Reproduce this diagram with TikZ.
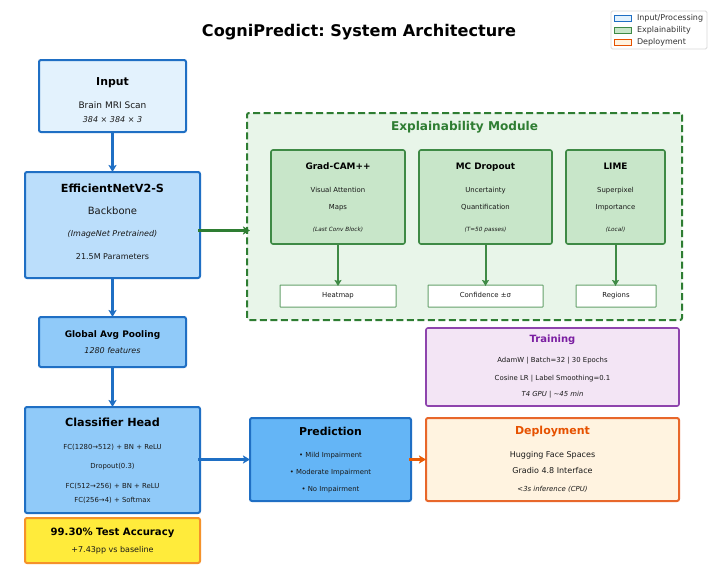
\documentclass[tikz,border=0pt]{standalone}
\usepackage{fontspec}
\setmainfont{DejaVu Sans}
\usetikzlibrary{arrows.meta}
\definecolor{cblue}{HTML}{1F6FC4}
\definecolor{cgreen}{HTML}{3E8A45}
\definecolor{cdgreen}{HTML}{2E7D32}
\definecolor{cpurple}{HTML}{7B1FA2}
\definecolor{cborderp}{HTML}{8E44AD}
\definecolor{corange}{HTML}{E65100}
\definecolor{cborderd}{HTML}{E8672A}
\definecolor{cgold}{HTML}{F5922A}
\definecolor{finput}{HTML}{E3F2FD}
\definecolor{fback}{HTML}{BBDEFB}
\definecolor{fhead}{HTML}{90CAF9}
\definecolor{fpred}{HTML}{64B5F6}
\definecolor{fmod}{HTML}{E8F5E9}
\definecolor{fxai}{HTML}{C8E6C9}
\definecolor{ftrain}{HTML}{F3E5F5}
\definecolor{fdep}{HTML}{FFF3E0}
\definecolor{facc}{HTML}{FFEB3B}
\newcommand{\fs}[1]{\fontsize{#1pt}{#1pt}\selectfont\frenchspacing}
\tikzset{
  every node/.style={inner sep=0pt,outer sep=0pt},
  lbl/.style={anchor=center,align=center,yshift=-1.2pt,text=black!90,font=\fs{#1},text height=0.74*#1pt,text depth=0.2*#1pt},
  blbl/.style={anchor=center,align=center,yshift=-1.2pt,text=black,font=\fs{#1}\bfseries,text height=0.74*#1pt,text depth=0.2*#1pt},
  ilbl/.style={anchor=center,align=center,yshift=-1.2pt,text=black!90,font=\fs{#1}\itshape,text height=0.74*#1pt,text depth=0.2*#1pt},
  panel/.style={anchor=center,line width=2pt,rounded corners=2pt},
  xaibox/.style={panel,draw=cgreen,fill=fxai,line width=1.6pt,minimum height=94pt},
  outbox/.style={anchor=center,draw=cgreen!80,fill=white,line width=1pt,rounded corners=.5pt,minimum height=22pt},
  flow/.style={draw=#1,line width=2.2pt,-{Stealth[length=7pt,width=8pt,inset=1.5pt]}},
  sflow/.style={draw=#1,line width=2pt,-{Stealth[length=6pt,width=7pt,inset=1pt]}},
  swatch/.style={anchor=center,draw=#1,line width=1pt,minimum width=17pt,minimum height=6pt},
  legtxt/.style={anchor=west,text=black!80,font=\fs{8},text height=5.9pt,text depth=1.6pt},
}
\begin{document}
\begin{tikzpicture}[x=1pt,y=-1pt]
\useasboundingbox (0,0) rectangle (718,573);
\fill[white] (0,0) rectangle (718,573);
\node[blbl=16.1] (title) at (359,31) {CogniPredict: System Architecture};
% legend
\node[draw=black!15,fill=white,line width=.8pt,rounded corners=1.5pt,minimum width=96pt,minimum height=38pt] (legend) at (659,30) {};
\node[swatch=cblue,fill=finput] (sw1) at (622.5,18) {};
\node[swatch=cgreen,fill=fxai] (sw2) at (622.5,30) {};
\node[swatch=corange,fill=fdep] (sw3) at (622.5,42) {};
\node[legtxt] (lt1) at (637,18) {Input/Processing};
\node[legtxt] (lt2) at (637,30) {Explainability};
\node[legtxt] (lt3) at (637,42) {Deployment};
% main column
\node[panel,draw=cblue,fill=finput,minimum width=147pt,minimum height=72pt] (input) at (112.5,96) {};
\node[panel,draw=cblue,fill=fback,minimum width=175pt,minimum height=106pt] (eff) at (112.5,225) {};
\node[panel,draw=cblue,fill=fhead,minimum width=147pt,minimum height=50pt] (gap) at (112.5,342) {};
\node[panel,draw=cblue,fill=fhead,minimum width=175pt,minimum height=106pt] (head) at (112.5,460) {};
\node[panel,draw=cgold,fill=facc,minimum width=175pt,minimum height=45pt] (acc) at (112.5,540.5) {};
% explainability module
\node[panel,draw=cdgreen,fill=fmod,dash pattern=on 7pt off 3.5pt,minimum width=435pt,minimum height=207pt] (mod) at (464.5,216.5) {};
\node[xaibox,minimum width=134pt] (cam) at (338,197) {};
\node[xaibox,minimum width=133pt] (mc) at (485.5,197) {};
\node[xaibox,minimum width=99pt] (lime) at (615.5,197) {};
\node[outbox,minimum width=116pt] (hm) at (338,296) {};
\node[outbox,minimum width=115pt] (conf) at (485.5,296) {};
\node[outbox,minimum width=80pt] (reg) at (616,296) {};
% right column
\node[panel,draw=cblue,fill=fpred,minimum width=161pt,minimum height=83pt] (pred) at (330.5,459.5) {};
\node[panel,draw=cborderp,fill=ftrain,line width=1.6pt,minimum width=253pt,minimum height=78pt] (train) at (552.5,367) {};
\node[panel,draw=cborderd,fill=fdep,minimum width=253pt,minimum height=83pt] (dep) at (552.5,459.5) {};
% connectors
\draw[flow=cblue] (input.south) -- (eff.north);
\draw[flow=cblue] (eff.south) -- (gap.north);
\draw[flow=cblue] (gap.south) -- (head.north);
\draw[flow=cblue] ([xshift=-2pt]pred.west -| head.east) -- (pred.west);
\draw[flow=corange!85!cgold] ([xshift=-2pt]pred.east) -- (dep.west);
\draw[flow=cdgreen] ([shift={(-2pt,-5.5pt)}]eff.east) -- ([shift={(3pt,-14pt)}]mod.west);
\draw[sflow=cgreen] (cam.south) -- ([yshift=-1pt]cam.south |- hm.north);
\draw[sflow=cgreen] (mc.south) -- ([yshift=-1pt]mc.south |- conf.north);
\draw[sflow=cgreen] (lime.south) -- ([yshift=-1pt]lime.south |- reg.north);
% labels
\node[blbl=10.9] (t1) at (112.5,81.5) {Input};
\node[lbl=9] (t2) at (112.5,104.5) {Brain MRI Scan};
\node[ilbl=8] (t3) at (112.5,119) {384 × 384 × 3};
\node[blbl=11.2] (t4) at (112.5,188) {EfficientNetV2-S};
\node[lbl=10] (t5) at (112.5,210.5) {Backbone};
\node[ilbl=8] (t6) at (112.5,233) {(ImageNet Pretrained)};
\node[lbl=8] (t7) at (112.5,256) {21.5M Parameters};
\node[blbl=9] (t8) at (112.5,334) {Global Avg Pooling};
\node[ilbl=8] (t9) at (112.5,350.5) {1280 features};
\node[blbl=11.2] (t10) at (112.5,422) {Classifier Head};
\node[lbl=6.9] (t11) at (112.5,446) {FC(1280→512) + BN + ReLU};
\node[lbl=6.9] (t12) at (112.5,465.5) {Dropout(0.3)};
\node[lbl=6.9] (t13) at (112.5,485) {FC(512→256) + BN + ReLU};
\node[lbl=6.9] (t14) at (112.5,499) {FC(256→4) + Softmax};
\node[blbl=10.1] (t15) at (112.5,531.5) {99.30\% Test Accuracy};
\node[lbl=8] (t16) at (112.5,549) {+7.43pp vs baseline};
\node[blbl=12.1,text=cdgreen] (t17) at (464.5,126) {Explainability Module};
\node[blbl=8.9] (t18) at (338,166) {Grad-CAM++};
\node[lbl=6.9] (t19) at (338,189) {Visual Attention};
\node[lbl=6.9] (t20) at (338,206) {Maps};
\node[ilbl=5.75] (t21) at (338,228.5) {(Last Conv Block)};
\node[blbl=8.9] (t22) at (485.5,166) {MC Dropout};
\node[lbl=6.9] (t23) at (485.5,189) {Uncertainty};
\node[lbl=6.9] (t24) at (485.5,206) {Quantification};
\node[ilbl=5.75] (t25) at (485.5,228.5) {(T=50 passes)};
\node[blbl=8.9] (t26) at (615.5,166) {LIME};
\node[lbl=6.9] (t27) at (615.5,189) {Superpixel};
\node[lbl=6.9] (t28) at (615.5,206) {Importance};
\node[ilbl=5.75] (t29) at (615.5,228.5) {(Local)};
\node[lbl=6.9] (t30) at (338,294) {Heatmap};
\node[lbl=6.9] (t31) at (485.5,294) {Confidence ±σ};
\node[lbl=6.9] (t32) at (616,294) {Regions};
\node[blbl=10,text=cpurple] (t33) at (552.5,339) {Training};
\node[lbl=6.9] (t34) at (552.5,359.5) {AdamW | Batch=32 | 30 Epochs};
\node[lbl=6.9] (t35) at (552.5,377) {Cosine LR | Label Smoothing=0.1};
\node[ilbl=6.9] (t36) at (552.5,393) {T4 GPU | \textasciitilde45 min};
\node[blbl=11,text=corange] (t37) at (552.5,430.5) {Deployment};
\node[lbl=8] (t38) at (552.5,454) {Hugging Face Spaces};
\node[lbl=8] (t39) at (552.5,470.5) {Gradio 4.8 Interface};
\node[ilbl=6.9] (t40) at (552.5,488) {<3s inference (CPU)};
\node[blbl=10.9] (t41) at (330.5,431) {Prediction};
\node[lbl=6.9] (t42) at (330.5,454.5) {• Mild Impairment};
\node[lbl=6.9] (t43) at (330.5,471) {• Moderate Impairment};
\node[lbl=6.9] (t44) at (330.5,488) {• No Impairment};
\end{tikzpicture}
\end{document}
